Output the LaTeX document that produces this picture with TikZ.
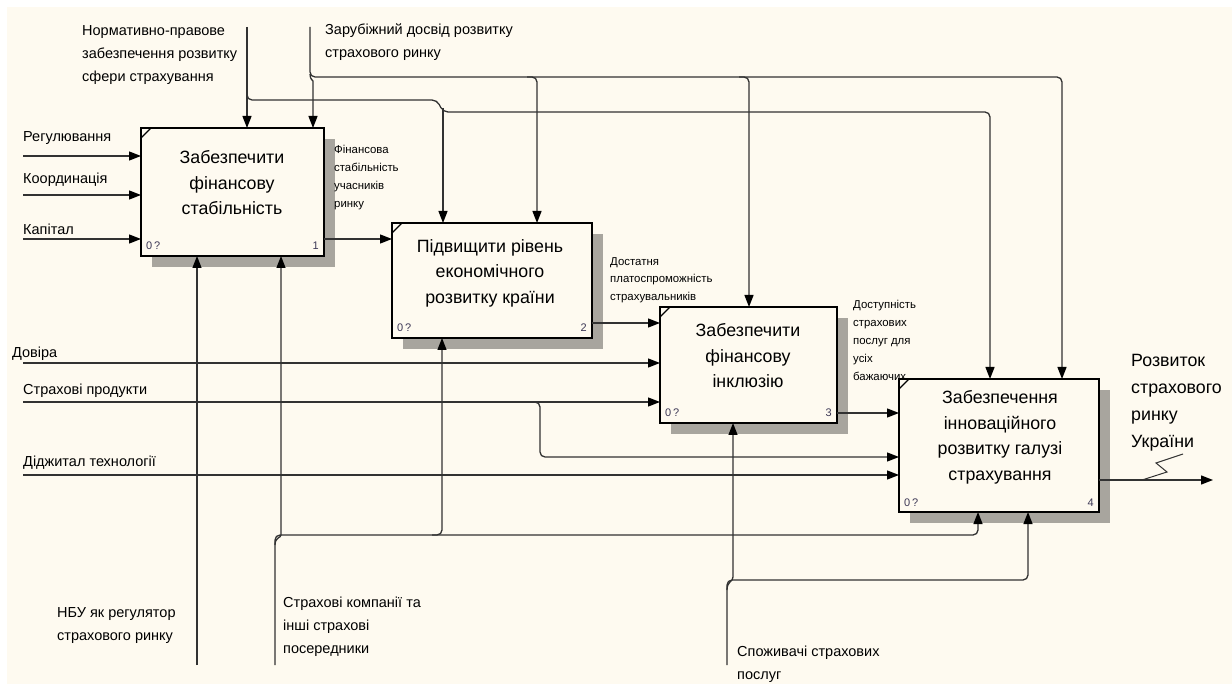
\documentclass[tikz,border=0pt]{standalone}
\usepackage{fontspec}
\setmainfont{Liberation Sans}
\usetikzlibrary{arrows.meta,shadows}
\definecolor{paper}{RGB}{254,250,240}
\definecolor{wirec}{RGB}{50,50,50}
\definecolor{hatch}{RGB}{168,165,158}
\definecolor{numc}{RGB}{60,55,85}
\begin{document}
\begin{tikzpicture}[x=1pt,y=-1pt,
  func/.style={draw,line width=2.2pt,fill=paper,inner sep=0pt,outer sep=0pt,
    drop shadow={shadow xshift=11pt,shadow yshift=-11pt,fill=hatch,opacity=1}},
  ftext/.style={align=center,font=\fontsize{17.8}{25.5}\selectfont},
  wire/.style={draw=wirec,line width=1.3pt,rounded corners=5pt,
    -{Triangle[length=12pt,width=9pt,black]}},
  lbl/.style={anchor=west,align=left,inner sep=0pt,font=\fontsize{14.5}{23}\selectfont},
  small/.style={anchor=west,align=left,inner sep=0pt,font=\fontsize{11.4}{18}\selectfont},
  num/.style={inner sep=0pt,text=numc,font=\fontsize{11}{12}\selectfont}]
\useasboundingbox (0,0) rectangle (1232,684);
\fill[white] (0,0) rectangle (1232,684);
\fill[paper] (7,7) rectangle (1232,684);

% activities
\node[func,minimum width=183pt,minimum height=128pt] (b1) at (232.5,192) {};
\node[func,minimum width=200pt,minimum height=115pt] (b2) at (492,280.5) {};
\node[func,minimum width=177pt,minimum height=116pt] (b3) at (748.5,365) {};
\node[func,minimum width=200pt,minimum height=133pt] (b4) at (999,445.5) {};
\node[ftext] (b1t) at (232,183) {Забезпечити\\фінансову\\стабільність};
\node[ftext] (b2t) at (490,273) {Підвищити рівень\\економічного\\розвитку країни};
\node[ftext] (b3t) at (748,356) {Забезпечити\\фінансову\\інклюзію};
\node[ftext] (b4t) at (1000,437.5) {Забезпечення\\інноваційного\\розвитку галузі\\страхування};
\foreach \b/\n in {b1/1,b2/2,b3/3,b4/4}{
  \draw[line width=1.4pt] (\b.north west) ++(0,10) -- ++(10,-10);
  \node[num,anchor=base west] (\b z) at ([xshift=5pt,yshift=6pt]\b.south west) {0\,?};
  \node[num,anchor=base east] (\b n) at ([xshift=-5pt,yshift=6pt]\b.south east) {\n};
}

% inputs
\coordinate (reg) at (23,156);
\coordinate (kor) at (23,195);
\coordinate (kap) at (23,239);
\coordinate (dov) at (23,363);
\coordinate (prod) at (23,402);
\coordinate (dig) at (23,475);
\draw[wire] (reg) -- (reg -| b1.west);
\draw[wire] (kor) -- (kor -| b1.west);
\draw[wire] (kap) -- (kap -| b1.west);
\draw[wire] (dov) -- (dov -| b3.west);
\draw[wire] (prod) -- (prod -| b3.west);
\draw[wire] (530,402) -- (540,402) -- (540,457) -- (b4.west |- 0,457);
\draw[wire] (dig) -- (dig -| b4.west);
\node[lbl] (regl) at (23,138) {Регулювання};
\node[lbl] (korl) at (23,180) {Координація};
\node[lbl] (kapl) at (23,229) {Капітал};
\node[lbl] (dovl) at (12,354) {Довіра};
\node[lbl] (prodl) at (23,391) {Страхові продукти};
\node[lbl] (digl) at (23,463) {Діджитал технології};

% outputs
\draw[wire] (b1.east |- 0,239) -- (b2.west |- 0,239);
\draw[wire] (b2.east |- 0,323) -- (b3.west |- 0,323);
\draw[wire] (b3.east |- 0,413) -- (b4.west |- 0,413);
\coordinate (out) at (1213,480);
\draw[wire] (b4.east |- out) -- (out);
\draw[line width=1pt,draw=wirec] (1142,480) -- (1167,472) -- (1156,463) -- (1183,454);
\node[small] (o1) at (334,178) {Фінансова\\стабільність\\учасників\\ринку};
\node[small,font=\fontsize{11.4}{17.5}\selectfont] (o2) at (610,280) {Достатня\\платоспроможність\\страхувальників};
\node[small] (o3) at (853,340) {Доступність\\страхових\\послуг для\\усіх\\бажаючих};
\node[anchor=west,align=left,inner sep=0pt,font=\fontsize{17.8}{27}\selectfont] (res) at (1131,403) {Розвиток\\страхового\\ринку\\України};

% controls
\coordinate (nrm) at (247,27);
\coordinate (zar) at (310,27);
\draw[wire] (nrm) -- (nrm |- b1.north);
\draw[wire] (247,90) -- (247,100) -- (437,100) -- (443,112) -- (990,112) -- (990,0 |- b4.north);
\draw[wire] (443,108) -- (443,0 |- b2.north);
\draw[wire] (zar) -- (310,77) -- (1062,77) -- (1062,0 |- b4.north);
\draw[wire] (310,74) .. controls (310,80) and (313,80) .. (313,86) -- (313,0 |- b1.north);
\draw[wire] (527,77) -- (537,77) -- (537,0 |- b2.north);
\draw[wire] (739,77) -- (749,77) -- (749,0 |- b3.north);
\node[lbl] (nrml) at (82,55) {Нормативно-правове\\забезпечення розвитку\\сфери страхування};
\node[lbl] (zarl) at (325,42.5) {Зарубіжний досвід розвитку\\страхового ринку};

% mechanisms
\coordinate (nbu) at (197,665);
\coordinate (sk) at (275,665);
\coordinate (spo) at (727,665);
\draw[wire] (nbu) -- (nbu |- b1.south);
\draw[wire] (sk) -- (275,535) -- (978,535) -- (978,0 |- b4.south);
\draw[wire] (275,545) .. controls (275,537) and (281,538) .. (281,530) -- (281,0 |- b1.south);
\draw[wire] (432,535) -- (442,535) -- (442,0 |- b2.south);
\draw[wire] (spo) -- (727,580) -- (1028,580) -- (1028,0 |- b4.south);
\draw[wire] (727,590) .. controls (727,581) and (733,582) .. (733,572) -- (733,0 |- b3.south);
\node[lbl] (nbul) at (57,625.5) {НБУ як регулятор\\страхового ринку};
\node[lbl] (skl) at (283,627) {Страхові компанії та\\інші страхові\\посередники};
\node[lbl] (spol) at (737,664.5) {Споживачі страхових\\послуг};
\end{tikzpicture}
\end{document}
